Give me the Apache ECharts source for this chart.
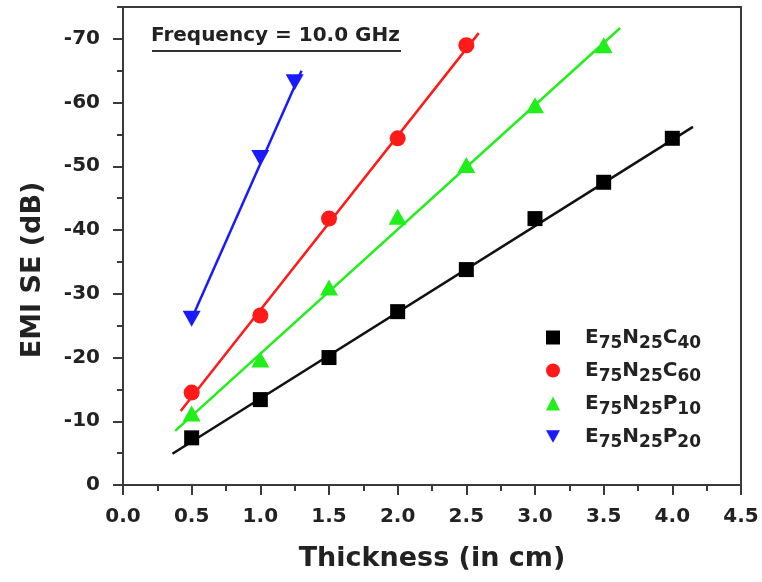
<!DOCTYPE html>
<html>
<head>
<meta charset="utf-8">
<script src="https://cdn.jsdelivr.net/npm/echarts@6/dist/echarts.min.js"></script>
<style>
  html, body { margin: 0; padding: 0; background: #fff; }
  #emi-chart { width: 762px; height: 582px; }
</style>
</head>
<body>
<div id="emi-chart"></div>
<script>
  // thickness (cm) / EMI SE (dB)
  const thicknessC40 = [0.5, 1.0, 1.5, 2.0, 2.5, 3.0, 3.5, 4.0];
  const seC40 = [-7.4, -13.4, -20.0, -27.2, -33.8, -41.8, -47.5, -54.4];
  const thicknessC60 = [0.5, 1.0, 1.5, 2.0, 2.5];
  const seC60 = [-14.5, -26.6, -41.8, -54.4, -69.0];
  const thicknessP10 = [0.5, 1.0, 1.5, 2.0, 2.5, 3.0, 3.5];
  const seP10 = [-11.2, -19.7, -31.0, -42.1, -50.2, -59.6, -69.0];
  const thicknessP20 = [0.5, 1.0, 1.25];
  const seP20 = [-26.1, -51.3, -63.2];

  // linear fit lines: [start, end]
  const fitC40 = [[0.36, -4.9], [4.15, -56.2]];
  const fitC60 = [[0.42, -11.6], [2.59, -70.9]];
  const fitP10 = [[0.38, -8.5], [3.62, -71.7]];
  const fitP20 = [[0.5, -26.1], [1.3, -65.0]];

  const xTickLabels = ['0.0', '0.5', '1.0', '1.5', '2.0', '2.5', '3.0', '3.5', '4.0', '4.5'];
  const yTickLabels = ['0', '-10', '-20', '-30', '-40', '-50', '-60', '-70'];

  const seriesNames = ['E75N25C40', 'E75N25C60', 'E75N25P10', 'E75N25P20'];
  const legendParts = [
    ['E', '75', 'N', '25', 'C', '40'],
    ['E', '75', 'N', '25', 'C', '60'],
    ['E', '75', 'N', '25', 'P', '10'],
    ['E', '75', 'N', '25', 'P', '20']
  ];
  const legendIcons = ['rect', 'circle', 'triangle', 'path://M0,0 L10,0 L5,9 Z'];

  const FONT = 'DejaVu Sans';
  const AXIS_COLOR = '#3a3a3a';
  const GRID_POS = { left: 123, right: 21, bottom: 97 };

  const pairs = (xs, ys) => xs.map((x, i) => [x, ys[i]]);

  function fitLine(data, color) {
    return {
      type: 'line',
      data: data,
      showSymbol: false,
      silent: true,
      lineStyle: { color: color, width: 2.5 },
      z: 2
    };
  }

  function points(name, data, symbol, size, color, rotate) {
    return {
      name: name,
      type: 'scatter',
      data: data,
      symbol: symbol,
      symbolSize: size,
      symbolRotate: rotate || 0,
      itemStyle: { color: color, opacity: 1 },
      z: 3
    };
  }

  const myChart = echarts.init(document.getElementById('emi-chart'));
  const option = {
    backgroundColor: '#fff',
    animation: false,
    textStyle: { fontFamily: FONT },
    title: {
      text: 'Frequency = 10.0 GHz',
      left: 151,
      top: 26,
      padding: 0,
      textStyle: { fontFamily: FONT, fontSize: 20, fontWeight: 'bold', color: '#222' }
    },
    graphic: [{
      type: 'line',
      shape: { x1: 152, y1: 51, x2: 401, y2: 51 },
      style: { stroke: '#333', lineWidth: 2 }
    }],
    legend: {
      orient: 'vertical',
      left: 541,
      top: 318,
      itemWidth: 14,
      itemHeight: 14,
      itemGap: 4,
      data: seriesNames.map((n, i) => ({ name: n, icon: legendIcons[i] })),
      formatter: function (name) {
        const p = legendParts[seriesNames.indexOf(name)];
        return '{g|}{m|' + p[0] + '}{s|' + p[1] + '}{m|' + p[2] + '}{s|' + p[3] + '}{m|' + p[4] + '}{s|' + p[5] + '}';
      },
      textStyle: {
        rich: {
          g: { width: 20 },
          m: { fontFamily: FONT, fontSize: 20, fontWeight: 'bold', color: '#222', lineHeight: 20 },
          s: { fontFamily: FONT, fontSize: 17, fontWeight: 'bold', color: '#222', lineHeight: 20, padding: [12, 0, 0, 0] }
        }
      }
    },
    grid: [
      Object.assign({ top: 7, show: true, borderColor: AXIS_COLOR, borderWidth: 2 }, GRID_POS),
      // second grid only carries the major ticks/labels of the y axis (-70..0)
      Object.assign({ top: 38.8 }, GRID_POS)
    ],
    xAxis: [
      {
        type: 'value',
        gridIndex: 0,
        min: 0,
        max: 4.5,
        interval: 0.5,
        name: 'Thickness (in cm)',
        nameLocation: 'middle',
        nameGap: 60,
        nameTextStyle: { fontFamily: FONT, fontSize: 27, fontWeight: 'bold', color: '#222' },
        axisLine: { lineStyle: { color: AXIS_COLOR, width: 2 } },
        axisTick: { length: 10, lineStyle: { color: AXIS_COLOR, width: 2 } },
        minorTick: { show: true, splitNumber: 2, length: 6, lineStyle: { color: AXIS_COLOR, width: 2 } },
        splitLine: { show: false },
        axisLabel: {
          margin: 22,
          fontFamily: FONT,
          fontSize: 20,
          fontWeight: 'bold',
          color: '#222',
          formatter: v => xTickLabels[Math.round(v / 0.5)]
        }
      },
      { type: 'value', gridIndex: 1, min: 0, max: 4.5, show: false }
    ],
    yAxis: [
      {
        type: 'value',
        gridIndex: 0,
        min: -75,
        max: 0,
        interval: 5,
        inverse: true,
        name: 'EMI SE (dB)',
        nameLocation: 'middle',
        nameGap: 77,
        nameTextStyle: { fontFamily: FONT, fontSize: 27, fontWeight: 'bold', color: '#222', padding: [0, 48, 0, 0] },
        axisLine: { lineStyle: { color: AXIS_COLOR, width: 2 } },
        axisTick: { length: 6, lineStyle: { color: AXIS_COLOR, width: 2 } },
        splitLine: { show: false },
        axisLabel: { show: false }
      },
      {
        type: 'value',
        gridIndex: 1,
        min: -70,
        max: 0,
        interval: 10,
        inverse: true,
        axisLine: { show: false },
        axisTick: { length: 10, lineStyle: { color: AXIS_COLOR, width: 2 } },
        splitLine: { show: false },
        axisLabel: {
          margin: 23,
          fontFamily: FONT,
          fontSize: 20,
          fontWeight: 'bold',
          color: '#222',
          formatter: v => yTickLabels[Math.round(-v / 10)]
        }
      }
    ],
    series: [
      fitLine(fitC40, '#111'),
      fitLine(fitC60, '#ff1a1a'),
      fitLine(fitP10, '#22ee1a'),
      fitLine(fitP20, '#1a1aff'),
      points(seriesNames[0], pairs(thicknessC40, seC40), 'rect', 15, '#000'),
      points(seriesNames[1], pairs(thicknessC60, seC60), 'circle', 16, '#ff1a1a'),
      points(seriesNames[2], pairs(thicknessP10, seP10), 'triangle', [18, 16], '#22ee1a'),
      points(seriesNames[3], pairs(thicknessP20, seP20), 'triangle', [18, 16], '#1a1aff', 180)
    ]
  };
  option && myChart.setOption(option);
</script>
</body>
</html>
